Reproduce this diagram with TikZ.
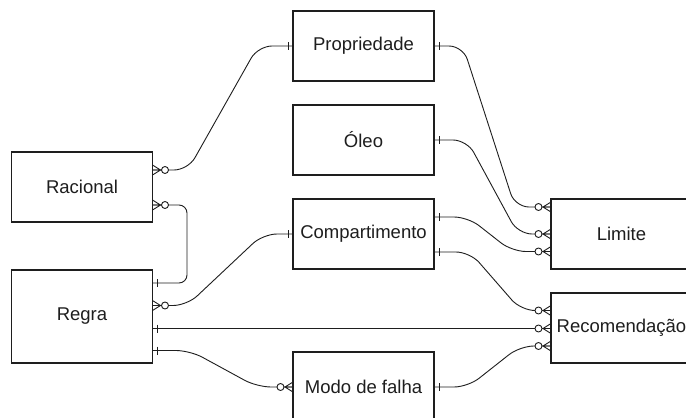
\documentclass[tikz,border=0pt]{standalone}
\usepackage{fontspec}
\setmainfont{Liberation Sans}
\usetikzlibrary{calc}
\definecolor{ink}{HTML}{1E1E1E}
\newcommand\ermany[2]{\begin{scope}[shift={(#1)},xscale=#2]
  \draw[conn,rounded corners=0pt] (0,-5)--(8,0)--(0,5) (0,0)--(8,0);
  \draw[conn,fill=white] (12.5,0) circle[radius=3.5pt];
\end{scope}}
\newcommand\erone[2]{\begin{scope}[shift={(#1)},xscale=#2]
  \draw[conn] (5,-4)--(5,4);
\end{scope}}
\begin{document}
\begin{tikzpicture}[x=1pt,y=-1pt,
  box/.style={draw=ink,line width=1.1pt,fill=white,minimum width=141pt,minimum height=70pt,
    inner sep=0pt,outer sep=0pt,anchor=north west,text=ink,font=\fontsize{18.5}{20}\selectfont},
  conn/.style={draw=ink,line width=0.9pt},
  link/.style={conn,rounded corners=14pt}]
\useasboundingbox (0,0) rectangle (686,418);
\fill[white] (0,0) rectangle (686,418);
% entities
\node[box] (rac) at (11.5,152) {Racional};
\node[box,minimum height=93pt] (reg) at (11.5,270) {Regra};
\node[box] (prop) at (293,11) {Propriedade};
\node[box] (oleo) at (293,105) {Óleo};
\node[box] (comp) at (293,199) {Compartimento};
\node[box] (modo) at (293,352) {Modo de falha};
\node[box] (lim) at (551,199) {Limite};
\node[box] (rec) at (551,293) {Recomendação};
% end points
\coordinate (racA) at ($(rac.north east)+(0,18)$);
\coordinate (racB) at ($(rac.north east)+(0,53)$);
\coordinate (regA) at ($(reg.north east)+(0,13)$);
\coordinate (regB) at ($(reg.north east)+(0,35.5)$);
\coordinate (regC) at ($(reg.north east)+(0,58.5)$);
\coordinate (regD) at ($(reg.north east)+(0,80.5)$);
\coordinate (compA) at ($(comp.north east)+(0,18)$);
\coordinate (compB) at ($(comp.north east)+(0,53)$);
\coordinate (limA) at ($(lim.north west)+(0,8)$);
\coordinate (limC) at ($(lim.north west)+(0,52.5)$);
\coordinate (recA) at ($(rec.north west)+(0,17.5)$);
\coordinate (recB) at (rec.west |- regC);
\coordinate (recC) at ($(rec.north west)+(0,53)$);
% connectors
\draw[link] (racA) -- (188,170) -- (258,46) -- (prop.west);
\draw[link,rounded corners=8pt] (racB) -- (187,205) -- (187,283) -- (regA);
\draw[link] (regB) -- (187,305.5) -- (263,234) -- (comp.west);
\draw[conn] (regC) -- (recB);
\draw[link] (regD) -- (190,350.5) -- (257,387) -- (modo.west);
\draw[link] (prop.east) -- (463,46) -- (515,207) -- (limA);
\draw[link] (oleo.east) -- (467,140) -- (518,234) -- (lim.west);
\draw[link] (compA) -- (468,217) -- (512,251.5) -- (limC);
\draw[link] (compB) -- (470,252) -- (521,310.5) -- (recA);
\draw[link] (modo.east) -- (468,387) -- (520,346) -- (recC);
% markers
\ermany{racA}{1}
\ermany{racB}{1}
\erone{regA}{1}
\ermany{regB}{1}
\erone{regC}{1}
\erone{regD}{1}
\erone{prop.west}{-1}
\erone{comp.west}{-1}
\ermany{modo.west}{-1}
\erone{prop.east}{1}
\erone{oleo.east}{1}
\erone{compA}{1}
\erone{compB}{1}
\erone{modo.east}{1}
\ermany{limA}{-1}
\ermany{lim.west}{-1}
\ermany{limC}{-1}
\ermany{recA}{-1}
\ermany{recB}{-1}
\ermany{recC}{-1}
\end{tikzpicture}
\end{document}
